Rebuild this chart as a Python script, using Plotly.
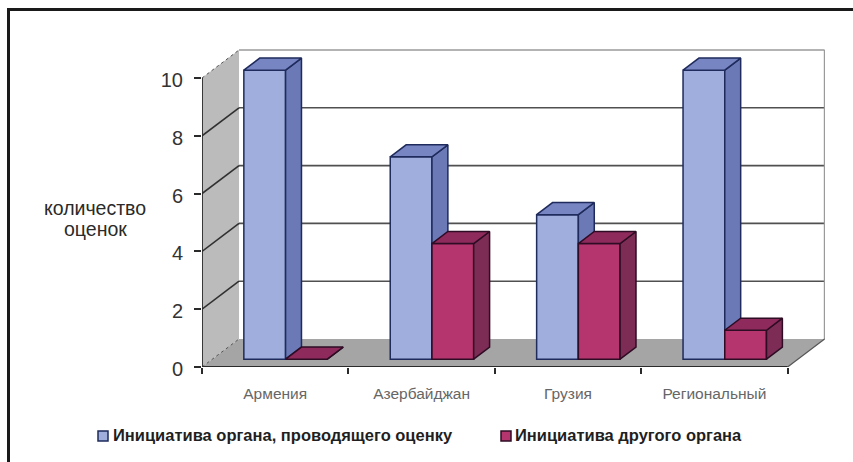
import plotly.graph_objects as go

categories = ["Армения", "Азербайджан", "Грузия", "Региональный"]
series_a_name = "Инициатива органа, проводящего оценку"
series_b_name = "Инициатива другого органа"
series_a = [10, 7, 5, 10]
series_b = [0, 4, 4, 1]
y_ticks = [0, 2, 4, 6, 8, 10]
y_title_lines = ["количество", "оценок"]

W, H = 853, 462
ML, MR, MT, MB = 202, 28, 48, 95
X_UNIT, Y_UNIT = 146.4, 28.9
X_RANGE = [0, (W - ML - MR) / X_UNIT]
Y_RANGE = [0, (H - MT - MB) / Y_UNIT]
DX, DY = 37 / X_UNIT, 28 / Y_UNIT      # projection of full chart depth
BAR_W = 0.285
GAP = (1 - 2 * BAR_W) / 2
D0, DEPTH = 0.28, 0.43                 # bar depth position and thickness

BLUE = dict(front="#9FAEDC", side="#6B79B6", top="#7885C3", edge="#1E2B5C")
RED = dict(front="#B5356F", side="#7D2C55", top="#8E2A5C", edge="#2E0C24")


def proj(x, y, d):
    return x + d * DX, y + d * DY


def poly(points_list):
    xs, ys = [], []
    for pts in points_list:
        for p in pts + pts[:1]:
            xs.append(p[0])
            ys.append(p[1])
        xs.append(None)
        ys.append(None)
    return xs, ys


def segs(seg_list):
    xs, ys = [], []
    for a, b in seg_list:
        xs += [a[0], b[0], None]
        ys += [a[1], b[1], None]
    return xs, ys


fig = go.Figure()
n = len(categories)


def add_fill(points, color, edge=None, lw=0, xa="x", ya="y"):
    x, y = poly(points)
    fig.add_trace(go.Scatter(x=x, y=y, mode="lines", fill="toself", fillcolor=color,
                             line=dict(color=edge or color, width=lw), xaxis=xa, yaxis=ya,
                             showlegend=False, hoverinfo="skip", cliponaxis=False))


def add_lines(seg_list, color, lw, dash="solid"):
    x, y = segs(seg_list)
    fig.add_trace(go.Scatter(x=x, y=y, mode="lines", line=dict(color=color, width=lw, dash=dash),
                             showlegend=False, hoverinfo="skip", cliponaxis=False))


# walls and floor
top = max(y_ticks)
add_fill([[proj(0, 0, 0), proj(0, top, 0), proj(0, top, 1), proj(0, 0, 1)]], "#BBBBBB")
add_fill([[proj(0, 0, 0), proj(n, 0, 0), proj(n, 0, 1), proj(0, 0, 1)]], "#A5A5A5")
add_lines([(proj(0, t, 1), proj(n, t, 1)) for t in y_ticks[1:-1]], "#505050", 1.6)
add_lines([(proj(0, t, 0), proj(0, t, 1)) for t in y_ticks[1:-1]], "#303030", 1.6)
add_lines([(proj(0, top, 1), proj(n, top, 1)), (proj(n, top, 1), proj(n, 0, 1))], "#9A9A9A", 1.6)
add_lines([(proj(0, top, 0), proj(0, top, 1)), (proj(0, 0, 0), proj(0, 0, 1))], "#555555", 1, "dot")
add_lines([(proj(n, 0, 0), proj(n, 0, 1))], "#555555", 1.2)
add_lines([(proj(0, 0, 0), proj(n, 0, 0)), (proj(0, 0, 0), proj(0, top, 0))], "#2A2A2A", 1.8)


def add_series(values, name, slot, style, xa, ya):
    lefts = [i + GAP + slot * BAR_W + D0 * DX for i in range(n)]
    base = D0 * DY
    sides, tops = [], []
    for left, v in zip(lefts, values):
        r = left + BAR_W
        t = v + base
        sides.append([(r, base), (r, t), proj(r, t, DEPTH), proj(r, base, DEPTH)])
        tops.append([(left, t), (r, t), proj(r, t, DEPTH), proj(left, t, DEPTH)])
    fig.add_trace(go.Bar(x=[l + BAR_W / 2 for l in lefts], y=values, base=[base] * n, width=BAR_W,
                         name=name, marker=dict(color=style["front"], line=dict(color=style["edge"], width=1.5)),
                         xaxis=xa, yaxis=ya, showlegend=False, hoverinfo="skip"))
    add_fill(sides, style["side"], style["edge"], 1.5, xa, ya)
    add_fill(tops, style["top"], style["edge"], 1.5, xa, ya)


add_series(series_a, series_a_name, 0, BLUE, "x2", "y2")
add_series(series_b, series_b_name, 1, RED, "x3", "y3")


def px(x):
    return (x - ML) / (W - ML - MR)


def py(y):
    return (H - MB - y) / (H - MT - MB)


annotations = []
for line, ly in zip(y_title_lines, [208, 229]):
    annotations.append(dict(text=line, xref="paper", yref="paper", x=px(95), y=py(ly),
                            showarrow=False, xanchor="center", yanchor="middle",
                            font=dict(family="Liberation Sans", size=19.5, color="#2A2A2A")))
shapes = []

for sx, tx, label, style in [(98, 111, series_a_name, BLUE), (501, 513, series_b_name, RED)]:
    annotations.append(dict(text=label, xref="paper", yref="paper", x=px(tx), y=py(435), showarrow=False,
                            xanchor="left", yanchor="middle",
                            font=dict(family="Liberation Sans", size=16.5, color="#1F1F1F", weight=600)))
    shapes.append(dict(type="rect", xref="paper", yref="paper", x0=px(sx), x1=px(sx + 10), y0=py(441), y1=py(431),
                       fillcolor=style["front"], line=dict(color=style["edge"], width=1.5)))

# picture frame: top and left rules only
shapes.append(dict(type="line", xref="paper", yref="paper", x0=px(7), x1=px(853), y0=py(9.5), y1=py(9.5),
                   line=dict(color="#1A1A1A", width=3)))
shapes.append(dict(type="line", xref="paper", yref="paper", x0=px(8.5), x1=px(8.5), y0=py(8), y1=py(462),
                   line=dict(color="#1A1A1A", width=3)))

hidden = dict(range=X_RANGE, visible=False, fixedrange=True)
hiddeny = dict(range=Y_RANGE, visible=False, fixedrange=True)
fig.update_layout(
    width=W, height=H, margin=dict(l=ML, r=MR, t=MT, b=MB, pad=0),
    paper_bgcolor="white", plot_bgcolor="white", showlegend=False,
    annotations=annotations, shapes=shapes,
    xaxis=dict(range=X_RANGE, fixedrange=True, showgrid=False, zeroline=False, showline=False,
               tickmode="array", tickvals=[i + 0.5 for i in range(n)], ticktext=categories,
               ticks="outside", ticklen=1, tickcolor="rgba(0,0,0,0)", ticklabelstandoff=11,
               tickfont=dict(family="Liberation Sans", size=15.5, color="#666666"),
               minor=dict(tickmode="array", tickvals=list(range(n + 1)), ticks="outside", ticklen=6,
                          tickcolor="#2A2A2A", tickwidth=1.5, showgrid=False)),
    yaxis=dict(range=Y_RANGE, fixedrange=True, showgrid=False, zeroline=False, showline=False,
               tickmode="array", tickvals=y_ticks, ticks="outside", ticklen=7, tickwidth=1.5,
               tickcolor="#2A2A2A", ticklabelstandoff=7, ticklabelshift=2,
               tickfont=dict(family="Liberation Sans", size=20, color="#333333")),
    xaxis2=dict(overlaying="x", **hidden), yaxis2=dict(overlaying="y", **hiddeny),
    xaxis3=dict(overlaying="x", **hidden), yaxis3=dict(overlaying="y", **hiddeny),
)

fig.write_html("out.html", config=dict(displayModeBar=False),
               post_script="document.body.style.margin='0';document.body.style.overflow='hidden';")
